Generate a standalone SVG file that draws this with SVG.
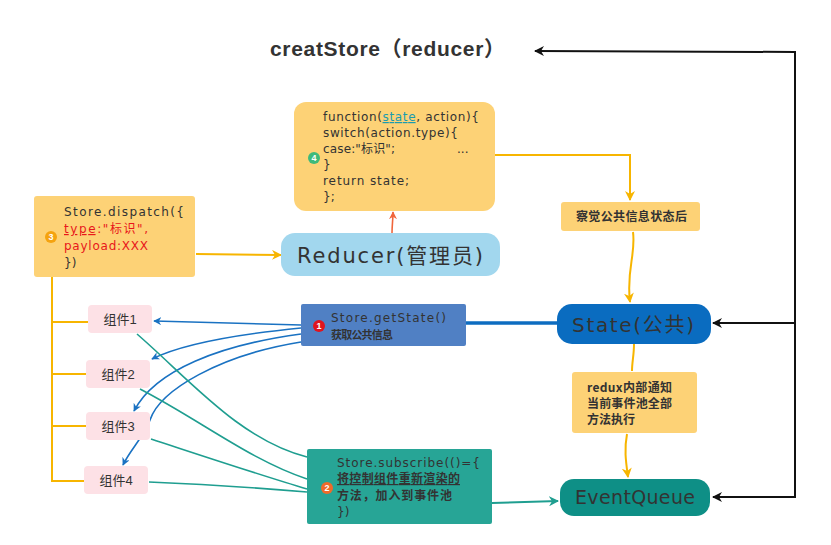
<svg xmlns="http://www.w3.org/2000/svg" width="831" height="545" viewBox="0 0 831 545">
<defs>
<style>
.t{font-family:"Liberation Sans","Noto Sans CJK SC",sans-serif;fill:#333}
.cn{font-family:"Noto Sans CJK SC",sans-serif;fill:#333;font-weight:bold}
.code{font-family:"DejaVu Sans","Noto Sans CJK SC",sans-serif;font-size:12px;fill:#333}
.big{font-family:"DejaVu Sans","Noto Sans CJK SC",sans-serif;fill:#333}
.badge{font-family:"Liberation Sans",sans-serif;font-size:9px;fill:#fff;font-weight:bold;text-anchor:middle}
.y{fill:none;stroke:#f7b500;stroke-width:2}
.b{fill:none;stroke:#1a72c2;stroke-width:1.6}
.g{fill:none;stroke:#1f9e90;stroke-width:1.6}
.k{fill:none;stroke:#111;stroke-width:2}
.comp{fill:#fde1e6}
</style>
<marker id="ay" viewBox="0 0 10 10" refX="9" refY="5" markerWidth="5" markerHeight="5" orient="auto"><path d="M0,0L10,5L0,10L3,5z" fill="#f7b500"/></marker>
<marker id="ab" viewBox="0 0 10 10" refX="9" refY="5" markerWidth="5" markerHeight="5" orient="auto"><path d="M0,0L10,5L0,10L3,5z" fill="#1a72c2"/></marker>
<marker id="ag" viewBox="0 0 10 10" refX="9" refY="5" markerWidth="5" markerHeight="5" orient="auto"><path d="M0,0L10,5L0,10L3,5z" fill="#1f9e90"/></marker>
<marker id="ak" viewBox="0 0 10 10" refX="9" refY="5" markerWidth="5" markerHeight="5" orient="auto"><path d="M0,0L10,5L0,10L3,5z" fill="#111"/></marker>
<marker id="ao" viewBox="0 0 10 10" refX="9" refY="5" markerWidth="5" markerHeight="5" orient="auto"><path d="M0,0L10,5L0,10L3,5z" fill="#f0663c"/></marker>
</defs>
<rect width="831" height="545" fill="#fff"/>

<g id="connectors">
<path class="k" d="M795,52 L535,51" marker-end="url(#ak)"/>
<path class="k" d="M795,51 L795,498"/>
<path class="k" d="M795,323 L713,323" marker-end="url(#ak)"/>
<path class="k" d="M795,497 L713,497" marker-end="url(#ak)"/>
<path class="y" d="M495,155 L630,155 L630,200" marker-end="url(#ay)"/>
<path class="y" d="M633,232 C636,255 626,270 630,302" marker-end="url(#ay)"/>
<path class="y" d="M634,344 C634,355 632,362 632,371"/>
<path class="y" d="M627,434 C624,450 626,462 628,477" marker-end="url(#ay)"/>
<path class="y" d="M196,254 L281,255" marker-end="url(#ay)"/>
<path class="y" d="M52,277 L52,482 M52,322 L88,322 M52,374 L86,374 M52,426 L86,426 M52,481 L84,481"/>
<path d="M392,233 C392,225 393,220 393,212" fill="none" stroke="#f0663c" stroke-width="1.6" marker-end="url(#ao)"/>
<path d="M466,323 L557,323" fill="none" stroke="#0d6cc0" stroke-width="3.5"/>
<path class="b" d="M301,325 L154,321" marker-end="url(#ab)"/>
<path class="b" d="M301,328 C230,335 180,345 152,359" marker-end="url(#ab)"/>
<path class="b" d="M301,334 C220,345 155,370 134,411" marker-end="url(#ab)"/>
<path class="b" d="M301,342 C220,355 160,390 150,420 C145,435 130,450 123,465" marker-end="url(#ab)"/>
<path class="g" d="M137,334 C190,380 240,440 307,457"/>
<path class="g" d="M140,389 C200,420 250,460 307,479"/>
<path class="g" d="M151,439 C200,455 260,475 307,489"/>
<path class="g" d="M149,482 C200,484 260,488 307,492"/>
<path d="M492,503 L558,501" fill="none" stroke="#1f9e90" stroke-width="2" marker-end="url(#ag)"/>
</g>

<g id="title">
<text class="t" x="270" y="56" font-size="21" font-weight="bold" textLength="235">creatStore（reducer）</text>
</g>

<g id="reducer-code">
<rect x="294" y="102" width="201" height="109" rx="12" fill="#fdd276"/>
<text class="code" x="323" y="121" textLength="156">function(<tspan fill="#1a9cb0" text-decoration="underline">state</tspan>, action){</text>
<text class="code" x="323" y="137" textLength="135">switch(action.type){</text>
<text class="code" x="323" y="153" textLength="72">case:"标识";</text>
<text class="code" x="457" y="153">...</text>
<text class="code" x="323" y="169">}</text>
<text class="code" x="323" y="185" textLength="86">return state;</text>
<text class="code" x="323" y="201">};</text>
<circle cx="314" cy="158" r="6" fill="#3fba7a"/>
<text class="badge" x="314" y="161">4</text>
</g>

<g id="observe">
<rect x="561" y="202" width="139" height="29" rx="3" fill="#fdd276"/>
<text class="cn" x="576" y="221" font-size="12" textLength="111">察觉公共信息状态后</text>
</g>

<g id="state">
<rect x="557" y="304" width="154" height="40" rx="15" fill="#0a6cc0"/>
<text class="big" x="572" y="332" font-size="20" textLength="122">State(公共)</text>
</g>

<g id="notify">
<rect x="572" y="372" width="125" height="61" rx="3" fill="#fdd276"/>
<text class="cn" x="587" y="392" font-size="12" textLength="85">redux内部通知</text>
<text class="cn" x="587" y="408" font-size="12" textLength="85">当前事件池全部</text>
<text class="cn" x="587" y="424" font-size="12" textLength="48">方法执行</text>
</g>

<g id="eventqueue">
<rect x="560" y="479" width="150" height="37" rx="14" fill="#0e8f86"/>
<text class="big" x="575" y="504" font-size="19" textLength="120">EventQueue</text>
</g>

<g id="dispatch">
<rect x="34" y="196" width="161" height="81" rx="3" fill="#fdd276"/>
<text class="code" x="64" y="216" font-size="13" textLength="120">Store.dispatch({</text>
<text class="code" x="64" y="233" font-size="13" textLength="84" style="fill:#e8171b"><tspan text-decoration="underline">type</tspan>:"标识",</text>
<text class="code" x="64" y="250" font-size="13" textLength="84" style="fill:#e8171b">payload:XXX</text>
<text class="code" x="64" y="267" font-size="13">})</text>
<circle cx="51" cy="237" r="6" fill="#f5a30f"/>
<text class="badge" x="51" y="240">3</text>
</g>

<g id="reducer">
<rect x="281" y="233" width="219" height="43" rx="14" fill="#a2d7ee"/>
<text class="big" x="297" y="263" font-size="21" textLength="186">Reducer(管理员)</text>
</g>

<g id="getstate">
<rect x="301" y="304" width="165" height="42" rx="2" fill="#5080c4"/>
<text class="code" x="331" y="322" textLength="115">Store.getState()</text>
<text class="cn" x="331" y="339" font-size="11" textLength="62">获取公共信息</text>
<circle cx="319" cy="326" r="6" fill="#e0141e"/>
<text class="badge" x="319" y="329">1</text>
</g>

<g id="subscribe">
<rect x="307" y="449" width="185" height="75" rx="2" fill="#27a596"/>
<text class="code" x="337" y="467" textLength="143">Store.subscribe(()={</text>
<text class="cn" x="337" y="483" font-size="12" text-decoration="underline" textLength="123">将控制组件重新渲染的</text>
<text class="cn" x="337" y="500" font-size="12" textLength="115">方法，加入到事件池</text>
<text class="code" x="337" y="516">})</text>
<circle cx="327" cy="488" r="6" fill="#f06a2a"/>
<text class="badge" x="327" y="491">2</text>
</g>

<g id="comp1"><rect class="comp" x="88" y="305" width="64" height="28" rx="4"/><text class="t" x="120" y="324" font-size="13" text-anchor="middle">组件1</text></g>
<g id="comp2"><rect class="comp" x="86" y="360" width="64" height="28" rx="4"/><text class="t" x="118" y="379" font-size="13" text-anchor="middle">组件2</text></g>
<g id="comp3"><rect class="comp" x="86" y="412" width="64" height="28" rx="4"/><text class="t" x="118" y="431" font-size="13" text-anchor="middle">组件3</text></g>
<g id="comp4"><rect class="comp" x="84" y="466" width="64" height="28" rx="4"/><text class="t" x="116" y="485" font-size="13" text-anchor="middle">组件4</text></g>
</svg>
